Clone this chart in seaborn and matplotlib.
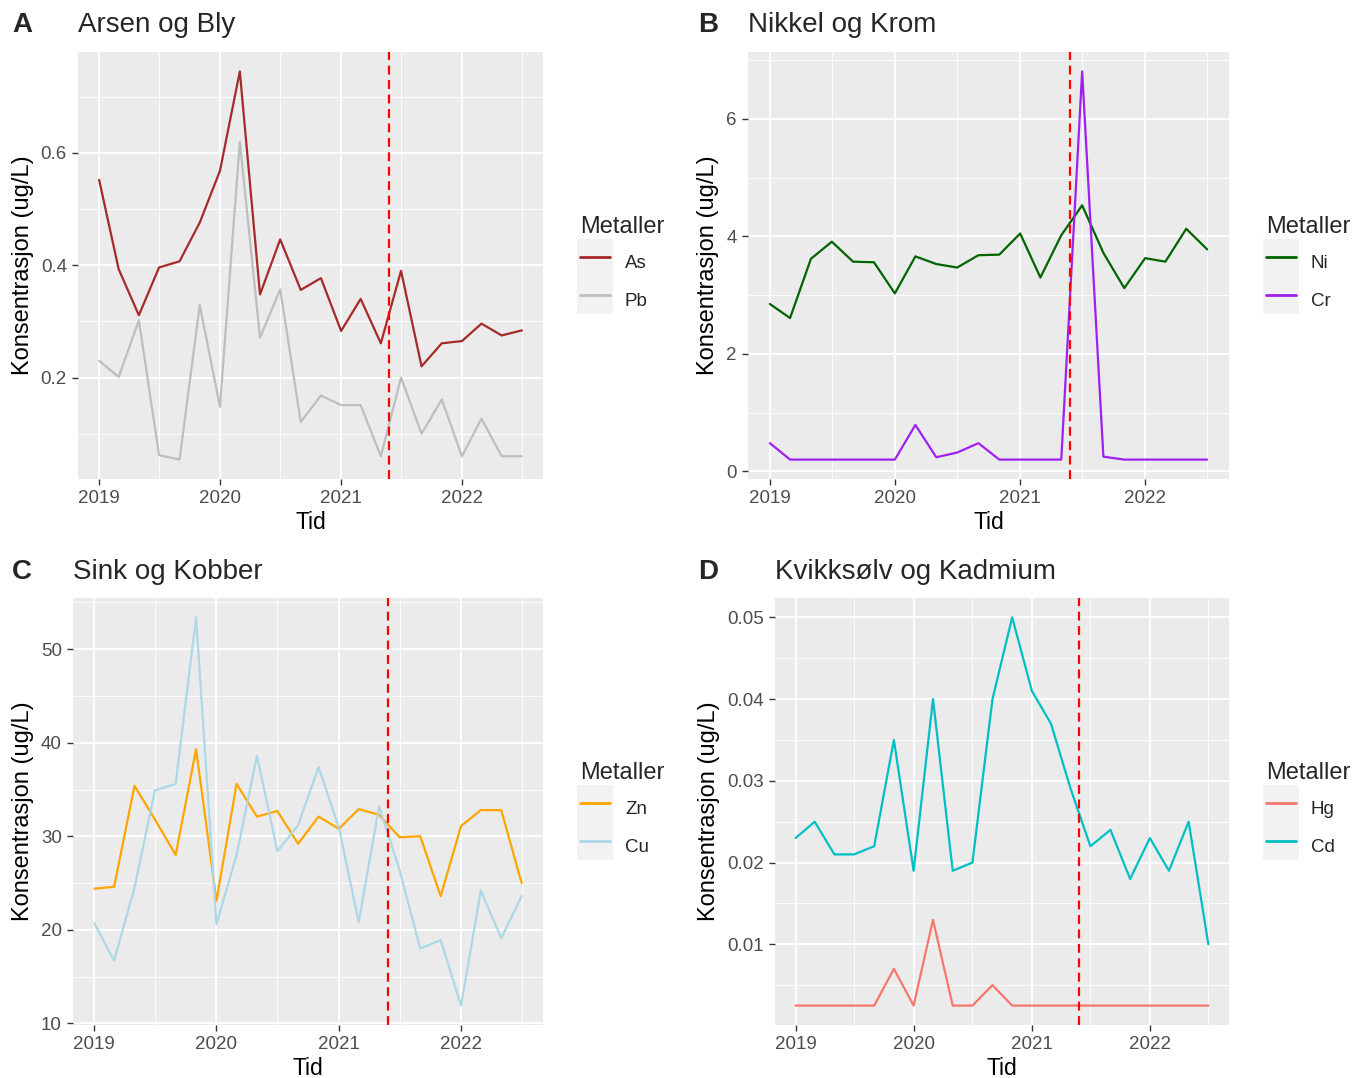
import numpy as np
import pandas as pd
import seaborn as sns
import matplotlib.pyplot as plt
import matplotlib.dates as mdates
from matplotlib.ticker import MultipleLocator
from matplotlib.patches import Rectangle

# sampling dates (every second month)
dates = pd.date_range("2019-01-01", periods=22, freq="2MS")
cutoff = pd.Timestamp("2021-05-27")

As = [0.552, 0.393, 0.311, 0.396, 0.407, 0.476, 0.568, 0.745, 0.348, 0.446, 0.356,
      0.377, 0.283, 0.340, 0.261, 0.390, 0.220, 0.261, 0.265, 0.296, 0.275, 0.284]
Pb = [0.230, 0.201, 0.302, 0.062, 0.054, 0.329, 0.148, 0.620, 0.271, 0.357, 0.121,
      0.168, 0.151, 0.151, 0.060, 0.200, 0.100, 0.161, 0.060, 0.127, 0.060, 0.060]
Ni = [2.85, 2.61, 3.62, 3.91, 3.57, 3.56, 3.03, 3.66, 3.53, 3.47, 3.68,
      3.69, 4.05, 3.30, 4.02, 4.53, 3.72, 3.12, 3.63, 3.57, 4.13, 3.78]
Cr = [0.48, 0.20, 0.20, 0.20, 0.20, 0.20, 0.20, 0.79, 0.24, 0.32, 0.48,
      0.20, 0.20, 0.20, 0.20, 6.81, 0.25, 0.20, 0.20, 0.20, 0.20, 0.20]
Zn = [24.4, 24.6, 35.4, 31.8, 28.0, 39.3, 23.1, 35.6, 32.1, 32.7, 29.2,
      32.1, 30.8, 32.9, 32.3, 29.9, 30.0, 23.6, 31.1, 32.8, 32.8, 25.0]
Cu = [20.7, 16.7, 24.5, 34.9, 35.6, 53.4, 20.6, 28.0, 38.6, 28.4, 31.2,
      37.4, 30.9, 20.8, 33.2, 26.4, 18.0, 18.9, 11.9, 24.2, 19.1, 23.6]
Hg = [0.0025, 0.0025, 0.0025, 0.0025, 0.0025, 0.007, 0.0025, 0.013, 0.0025, 0.0025, 0.005,
      0.0025, 0.0025, 0.0025, 0.0025, 0.0025, 0.0025, 0.0025, 0.0025, 0.0025, 0.0025, 0.0025]
Cd = [0.023, 0.025, 0.021, 0.021, 0.022, 0.035, 0.019, 0.040, 0.019, 0.020, 0.040,
      0.050, 0.041, 0.037, 0.029, 0.022, 0.024, 0.018, 0.023, 0.019, 0.025, 0.010]

colors = {"As": "#A52A2A", "Pb": "#BEBEBE", "Ni": "#006400", "Cr": "#A020F0",
          "Zn": "#FFA500", "Cu": "#ADD8E6", "Hg": "#F8766D", "Cd": "#00BFC4"}

panels = [
    ("A", "Arsen og Bly", (78, 52, 543, 479), {"As": As, "Pb": Pb}, 0.2, 0.1),
    ("B", "Nikkel og Krom", (748, 52, 1229, 479), {"Ni": Ni, "Cr": Cr}, 2, 1),
    ("C", "Sink og Kobber", (73, 598, 543, 1025), {"Zn": Zn, "Cu": Cu}, 10, 5),
    ("D", "Kvikksølv og Kadmium", (775, 598, 1229, 1025), {"Hg": Hg, "Cd": Cd}, 0.01, 0.005),
]
label_x = {"A": 12, "B": 698, "C": 12, "D": 698}
title_y = {"A": 25, "B": 25, "C": 572, "D": 572}

sns.set_theme(style="darkgrid", rc={"axes.facecolor": "#EBEBEB", "grid.color": "white"})
plt.rcParams["font.family"] = ["Liberation Sans", "DejaVu Sans"]

W, H = 1362, 1078
fig = plt.figure(figsize=(W / 100, H / 100), dpi=100)
fig.patch.set_facecolor("white")

legends = []
for letter, title, (x0, y0, x1, y1), series, major, minor in panels:
    ax = fig.add_axes([x0 / W, 1 - y1 / H, (x1 - x0) / W, (y1 - y0) / H])
    df = pd.DataFrame({"Tid": np.tile(dates, len(series)),
                       "value": np.concatenate([series[k] for k in series]),
                       "Metaller": np.repeat(list(series), len(dates))})
    sns.lineplot(data=df, x="Tid", y="value", hue="Metaller", hue_order=list(series),
                 palette=colors, linewidth=1.6, ax=ax)
    ax.axvline(cutoff, color="red", linestyle=(0, (4, 2.5)), linewidth=1.6)

    ax.xaxis.set_major_locator(mdates.YearLocator())
    ax.xaxis.set_major_formatter(mdates.DateFormatter("%Y"))
    ax.xaxis.set_minor_locator(mdates.MonthLocator(bymonth=7))
    ax.yaxis.set_major_locator(MultipleLocator(major))
    ax.yaxis.set_minor_locator(MultipleLocator(minor))
    ax.grid(which="major", color="white", linewidth=1.3)
    ax.grid(which="minor", color="white", linewidth=0.6)
    for s in ax.spines.values():
        s.set_visible(False)
    ax.tick_params(which="major", bottom=True, left=True, length=4, width=1,
                   color="#333333", labelsize=13.5, labelcolor="#4D4D4D", pad=4)
    ax.tick_params(which="minor", length=0)
    ax.set_xlabel("Tid", fontsize=16.5, color="black", labelpad=3)
    ax.set_ylabel("Konsentrasjon (ug/L)", fontsize=17, color="black", labelpad=5)

    handles, labels = ax.get_legend_handles_labels()
    leg = ax.legend(handles, labels, title="Metaller", loc="center left",
                    bbox_to_anchor=(1 + 37 / (x1 - x0), 0.5), frameon=False,
                    fontsize=13.5, title_fontsize=17, handlelength=1.6,
                    handleheight=2.05, labelspacing=0.45, handletextpad=0.8,
                    borderpad=0, borderaxespad=0, alignment="left")
    for h in leg.legend_handles:
        h.set_linewidth(2)
    legends.append(leg)

    fig.text(label_x[letter] / W, 1 - title_y[letter] / H, letter, fontsize=20,
             fontweight="bold", va="center", ha="left")
    fig.text(x0 / W, 1 - title_y[letter] / H, title, fontsize=20, va="center", ha="left")

# grey legend key background like ggplot
fig.canvas.draw()
renderer = fig.canvas.get_renderer()
for leg in legends:
    bbs = [h.get_window_extent(renderer) for h in leg.legend_handles]
    lx0 = min(b.x0 for b in bbs)
    lx1 = max(b.x1 for b in bbs)
    yc = [(b.y0 + b.y1) / 2 for b in bbs]
    row = 37
    rect = Rectangle(((lx0 - 3) / W, (min(yc) - row / 2) / H),
                     (lx1 - lx0 + 6) / W, (max(yc) - min(yc) + row) / H,
                     transform=fig.transFigure, facecolor="#F2F2F2",
                     edgecolor="none", zorder=-1)
    fig.add_artist(rect)

fig.savefig("out.png", dpi=100)
